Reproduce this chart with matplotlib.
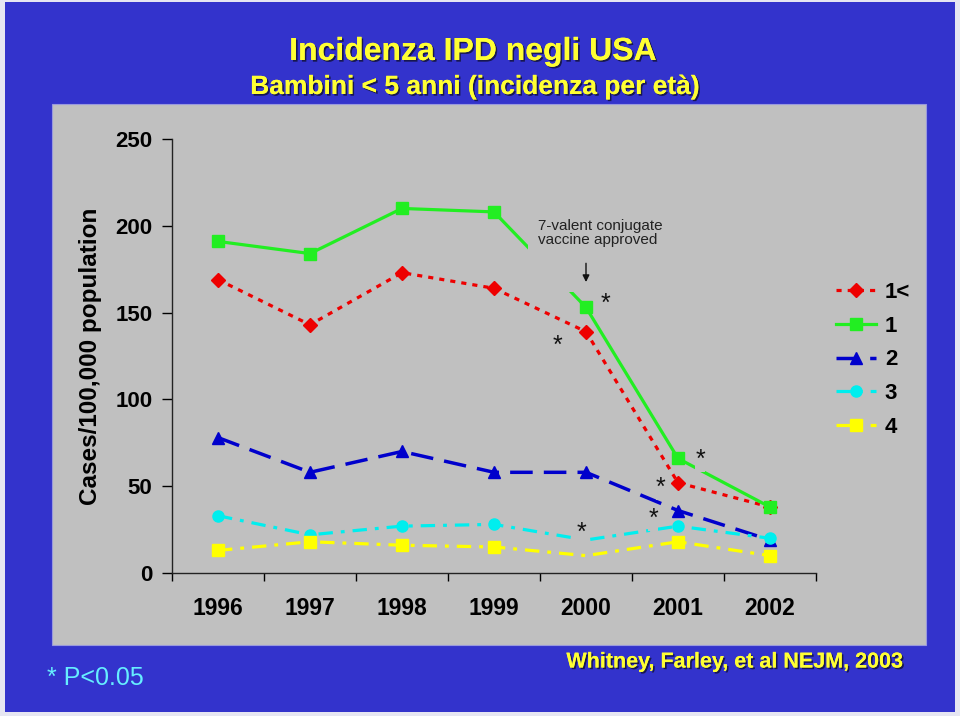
import matplotlib
matplotlib.use("Agg")
import matplotlib.pyplot as plt
import matplotlib.patheffects as pe
from matplotlib.patches import Rectangle

# ---- data ----
years = ["1996", "1997", "1998", "1999", "2000", "2001", "2002"]
age_lt1 = [169, 143, 173, 164, 139, 52, 38]
age_1 = [191, 184, 210, 208, 153, 66, 38]
age_2 = [78, 58, 70, 58, 58, 36, 19]
age_3 = [33, 22, 27, 28, 19, 27, 20]
age_4 = [13, 18, 16, 15, 10, 18, 10]
series_labels = ["1<", "1", "2", "3", "4"]

# asterisks (p<0.05) next to the points after the vaccine
star_x = [3.69, 4.21, 5.24, 4.81, 4.73, 3.95]
star_y = [131, 155, 65, 49, 31, 23]

BLUE_BG = "#3333CC"
GRAY = "#C0C0C0"
YELLOW = "#FFFF33"

plt.rcParams["font.family"] = ["Liberation Sans", "DejaVu Sans"]

fig = plt.figure(figsize=(9.6, 7.16), dpi=100, facecolor="#E6E6F2")
W, H = 960, 716

def fx(px):
    return px / W

def fy(py):
    return 1 - py / H

# blue slide background + gray chart panel (behind the axes)
fig.patches.append(Rectangle((fx(5), fy(712)), fx(950), (712 - 2) / H,
                             transform=fig.transFigure, facecolor=BLUE_BG,
                             edgecolor="none", zorder=-3))
fig.patches.append(Rectangle((fx(52), fy(645)), fx(926 - 52), (645 - 104) / H,
                             transform=fig.transFigure, facecolor=GRAY,
                             edgecolor="#9999DD", lw=0.8, zorder=-2))

ax = fig.add_axes([fx(172), fy(573), fx(816 - 172), (573 - 139) / H])
ax.set_facecolor(GRAY)
ax.patch.set_alpha(0)

x = list(range(len(years)))
lw = 2.3
ms = 8

l0, = ax.plot(x, age_lt1, color="#EE0000", lw=lw, dashes=(1.6, 1.9),
              marker="D", ms=ms - 1, zorder=3)
l1, = ax.plot(x, age_1, color="#22EE22", lw=lw, marker="s", ms=ms, zorder=3)
l2, = ax.plot(x, age_2, color="#0000CC", lw=lw + 0.2, dashes=(6.5, 3.2),
              marker="^", ms=ms + 1, zorder=3)
l3, = ax.plot(x, age_3, color="#00EEEE", lw=lw, dashes=(4.5, 2.5, 1.2, 2.5),
              marker="o", ms=ms, markevery=[0, 1, 2, 3, 5, 6], zorder=3)
l4, = ax.plot(x, age_4, color="#FFFF00", lw=lw, dashes=(4.5, 2.5, 1.2, 2.5),
              marker="s", ms=ms, markevery=[0, 1, 2, 3, 5, 6], zorder=3)

# axes styling
ax.set_xlim(-0.5, 6.5)
ax.set_ylim(0, 250)
ax.set_yticks([0, 50, 100, 150, 200, 250])
ax.set_xticks([i - 0.5 for i in range(8)])
ax.set_xticklabels([])
ax.set_xticks(x, minor=True)
ax.set_xticklabels(years, minor=True, fontsize=16.5, fontweight="bold")
ax.tick_params(axis="x", which="minor", length=0, pad=17)
ax.tick_params(axis="x", which="major", length=6, width=1, direction="out")
ax.tick_params(axis="y", length=7, width=1, direction="out", pad=7,
               labelsize=16)
for t in ax.get_yticklabels():
    t.set_fontweight("bold")
for s in ["top", "right"]:
    ax.spines[s].set_visible(False)
for s in ["left", "bottom"]:
    ax.spines[s].set_linewidth(1)
    ax.spines[s].set_color("#222222")
ax.set_ylabel("Cases/100,000 population", fontsize=17.5, fontweight="bold",
              labelpad=10)

# vaccine annotation (its box hides part of the green line, as on the slide)
ax.add_patch(Rectangle((3.37, 162), 1.55, 44, facecolor=GRAY,
                       edgecolor="none", zorder=4))
ax.text(3.48, 204, "7-valent conjugate\nvaccine approved", fontsize=11,
        color="#222222", va="top", ha="left", linespacing=1.05, zorder=5)
ax.annotate("", xy=(4.0, 166), xytext=(4.0, 180),
            arrowprops=dict(arrowstyle="-|>", color="#111111", lw=1,
                            mutation_scale=10), zorder=5)

for sx, sy in zip(star_x, star_y):
    ax.text(sx, sy, "*", fontsize=18, ha="center", va="center",
            color="#111111", zorder=5,
            bbox=dict(boxstyle="square,pad=0.0", facecolor=GRAY,
                      edgecolor="none"))

leg = ax.legend([l0, l1, l2, l3, l4], series_labels, loc="upper left",
                bbox_to_anchor=(fx(836), fy(282)),
                bbox_transform=fig.transFigure, frameon=False,
                prop={"size": 16, "weight": "bold"}, handlelength=1.8,
                handletextpad=0.4, labelspacing=0.57, borderpad=0,
                borderaxespad=0, numpoints=1)

# titles and footer
shadow = [pe.withSimplePatchShadow(offset=(1.2, -1.2), shadow_rgbFace="#111133",
                                   alpha=0.8), pe.Normal()]
fig.text(fx(473), fy(52), "Incidenza IPD negli USA",
         fontsize=23, fontweight="bold", color=YELLOW, ha="center",
         va="center", path_effects=shadow)
fig.text(fx(475), fy(87), "Bambini < 5 anni (incidenza per età)",
         fontsize=19, fontweight="bold", color=YELLOW,
         ha="center", va="center", path_effects=shadow)
fig.text(fx(903), fy(662), "Whitney, Farley, et al NEJM, 2003",
         fontsize=15.5, fontweight="bold", color=YELLOW,
         ha="right", va="center", path_effects=shadow)
fig.text(fx(47), fy(678), "* P<0.05", fontsize=18,
         color="#66EEFF", ha="left", va="center")

fig.savefig("out.png", dpi=100, facecolor=fig.get_facecolor())
